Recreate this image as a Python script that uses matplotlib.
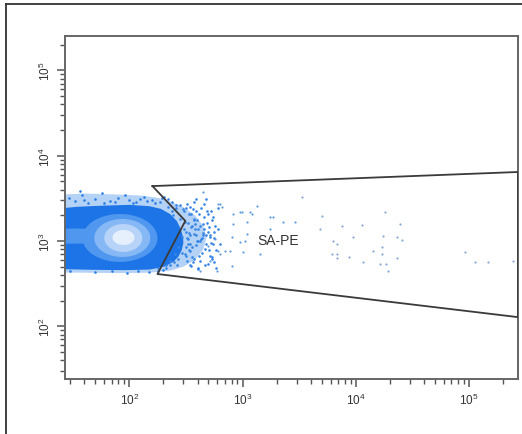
import numpy as np
import matplotlib
matplotlib.use("Agg")
import matplotlib.pyplot as plt
from matplotlib.lines import Line2D
from matplotlib.ticker import LogLocator, NullFormatter

plt.rcParams['font.family'] = ['Liberation Sans', 'DejaVu Sans']
plt.rcParams['mathtext.fontset'] = 'custom'
plt.rcParams['mathtext.rm'] = 'Liberation Sans'
plt.rcParams['mathtext.it'] = 'Liberation Sans:italic'
plt.rcParams['mathtext.bf'] = 'Liberation Sans:bold'

# ---------------- data ----------------
x_limits = [27, 271000]
y_limits = [24.1, 253000]

# sparse halo of events around the body
halo_x = [15, 40, 80, 130, 180, 230, 300, 380, 450, 480, 450, 380, 300, 230, 150, 80, 40, 15]
halo_y = [3400, 3600, 3500, 3400, 3200, 2900, 2500, 2000, 1500, 1100, 800, 600, 500, 450, 425, 420, 425, 430]

# outer boundary of the dense (solid) population
solid_x = [15, 20, 35, 60, 100, 150, 190, 230, 262, 285, 298, 300, 290, 270, 245, 205, 150, 90, 45, 20, 15]
solid_y = [2300, 2350, 2520, 2600, 2650, 2560, 2380, 2060, 1720, 1380, 1100, 950, 780, 650, 570, 500, 462, 455, 460, 470, 470]

# nested density contour rings (outer -> inner), extents in data units
ring_x_lo = [38.5, 49.0, 60.0, 71.0]
ring_x_hi = [177.0, 153.0, 130.0, 111.0]
ring_y_lo = [568, 649, 743, 898]
ring_y_hi = [2073, 1812, 1582, 1346]
ring_colors = ['#4f97ef', '#85b8f4', '#b7d3f8', '#e6effc']

# lighter lobe at the left edge
lobe_x = [12, 90]
lobe_y = [930, 1400]

# events just outside the solid body (dense, bright)
dense_x = [221, 240, 260, 230, 255, 271, 294, 282, 306, 265, 212, 244,
           325, 339, 353, 332, 345, 325, 367, 383, 375, 390, 360, 406, 415,
           432, 450, 424, 469, 488, 478, 508, 529, 551, 540, 459, 390, 353,
           562, 498, 406, 318, 300, 312, 335, 372, 398, 445, 520, 310, 342,
           318, 332, 345, 360, 375, 390, 406, 424, 441, 459, 478, 498, 518, 540,
           562, 586, 611, 636, 325, 339, 353, 367, 383, 398, 415, 432, 450, 469,
           488, 508, 529, 551, 574, 345, 375, 406, 318, 332, 360, 390, 424, 459,
           498, 540, 306, 294, 282, 271, 260, 250, 240, 230, 221, 212, 204, 196,
           188, 180, 318, 345, 375, 441, 478, 518, 562, 611, 586]
dense_y = [2505, 2248, 2643, 583, 705, 851, 1114, 1812, 1383, 523, 523, 2018,
           2715, 2073, 1459, 1055, 764, 583, 2372, 1582, 1208, 898, 649, 1383, 2073,
           1055, 1582, 583, 806, 2248, 1175, 1459, 948, 1911, 649, 2715, 3100, 509,
           1276, 537, 470, 851, 2400, 1650, 1250, 1800, 1000, 1250, 1100, 700, 2500,
           2438, 1625, 1175, 851, 615, 2248, 1000, 1500, 723, 1911, 922, 1276, 667, 1762,
           1084, 784, 1383, 922, 1084, 784, 2073, 568, 1383, 1762, 667, 2438, 1175, 523,
           1625, 784, 2248, 922, 1500, 523, 2864, 482, 667, 922, 1500, 1175, 1000, 1383,
           2073, 615, 2248, 723, 2643, 615, 2438, 568, 2864, 523, 3100, 482, 3280, 523,
           2864, 482, 1276, 922, 1762, 1084, 3100, 1175, 568, 2438, 482]

# ragged upper / lower fringe of the population
fringe_x = [29, 33.3, 38.5, 43.4, 50.1, 57.8, 68, 80, 92.2, 108, 125, 144, 170, 196,
            60, 100, 115, 160, 75, 135, 40, 37, 30, 50, 70, 95, 120, 150, 180, 200]
fringe_y = [3190, 2945, 3460, 2786, 3100, 3655, 2945, 3190, 3460, 2786, 3100, 2945, 2786, 3190,
            2786, 3000, 2850, 3000, 2850, 3300, 3000, 3855, 445, 430, 440, 425, 440, 430, 445, 460]

# sparse tail events
tail_x = [636, 1349, 828, 994, 1218, 1867, 1100, 2288, 2917, 1757, 955, 811, 704, 1014,
          636, 450, 611, 662, 955, 1169, 828, 1100, 574, 498, 611, 779, 518, 811, 598,
          1057, 1432, 424, 1757]
tail_y = [2715, 2573, 2073, 2190, 2073, 1911, 1670, 1670, 1670, 1383, 973, 1114, 764, 743,
          705, 3750, 2715, 2505, 2190, 2190, 1582, 1208, 1055, 873, 764, 764, 583, 509, 445,
          1000, 705, 445, 1911]

# far events inside the gate
far_x = [3360, 5050, 4850, 7590, 11400, 18200, 24640, 6320, 6855, 9490, 17460, 23200, 25680,
         17100, 14250, 6190, 6855, 6855, 8750, 17100, 23200, 11620, 16420, 18550, 19320,
         92500, 113300, 147500, 245000]
far_y = [3280, 1965, 1383, 1500, 1541, 2190, 1582, 1000, 922, 1114, 1145, 1114, 1028,
         851, 764, 705, 705, 632, 649, 705, 632, 568, 537, 537, 445,
         743, 568, 568, 583]

# gate polygon
gate_x = [160, 312, 177, 271000, 271000, 160]
gate_y = [4400, 1720, 410, 128, 6440, 4400]
gate_label = "SA-PE"
gate_label_pos = (2065, 1025)

# ---------------- figure ----------------
fig = plt.figure(figsize=(5.22, 4.35), dpi=100)
ax = fig.add_axes([65 / 522, 1 - 380 / 435, 453 / 522, 343 / 435])
ax.set_xscale('log')
ax.set_yscale('log')
ax.set_xlim(*x_limits)
ax.set_ylim(*y_limits)

ax.fill(halo_x, halo_y, color='#b4d1f6', lw=0, zorder=0.5)
ax.fill(solid_x, solid_y, color='#1c74e7', lw=0, zorder=1)


def ellipse(xlo, xhi, ylo, yhi, n=120):
    cx = (np.log10(xlo) + np.log10(xhi)) / 2
    rx = (np.log10(xhi) - np.log10(xlo)) / 2
    cy = (np.log10(ylo) + np.log10(yhi)) / 2
    ry = (np.log10(yhi) - np.log10(ylo)) / 2
    t = np.linspace(0, 2 * np.pi, n)
    return 10 ** (cx + rx * np.cos(t)), 10 ** (cy + ry * np.sin(t))


ex, ey = ellipse(lobe_x[0], lobe_x[1], lobe_y[0], lobe_y[1])
ax.fill(ex, ey, color=ring_colors[0], lw=0, zorder=2)
for xlo, xhi, ylo, yhi, c in zip(ring_x_lo, ring_x_hi, ring_y_lo, ring_y_hi, ring_colors):
    ex, ey = ellipse(xlo, xhi, ylo, yhi)
    ax.fill(ex, ey, color=c, lw=0, zorder=2)

ax.scatter(fringe_x, fringe_y, s=3.5, color='#2a7fe6', lw=0, zorder=3)
ax.scatter(dense_x, dense_y, s=3.5, color='#3585e4', lw=0, zorder=3)
ax.scatter(tail_x, tail_y, s=2.5, color='#5f9cdc', lw=0, zorder=3)
ax.scatter(far_x, far_y, s=2.5, color='#86aad6', lw=0, zorder=3)

ax.plot(gate_x, gate_y, color='#3a3a3a', lw=1.3, zorder=4, clip_on=True)
ax.text(gate_label_pos[0], gate_label_pos[1], gate_label, fontsize=10,
        color='#333333', ha='center', va='center', zorder=5)

for s in ['top', 'right', 'bottom', 'left']:
    ax.spines[s].set_color('#666666')
    ax.spines[s].set_linewidth(1.4)

for axis in (ax.xaxis, ax.yaxis):
    axis.set_major_locator(LogLocator(base=10, numticks=10))
    axis.set_minor_locator(LogLocator(base=10, subs=np.arange(2, 10), numticks=20))
    axis.set_minor_formatter(NullFormatter())

ax.tick_params(which='major', direction='out', length=6, width=1.1, color='#555555',
               labelsize=8.5, labelcolor='#333333', pad=3)
ax.tick_params(which='minor', direction='out', length=3.5, width=1.0, color='#555555')
ax.tick_params(top=False, right=False)
for lab in ax.get_yticklabels():
    lab.set_rotation(90)
    lab.set_va('center')

# outer frame of the image
fig.add_artist(Line2D([6 / 522, 1.0], [1 - 5 / 435, 1 - 5 / 435], color='#333333', lw=1.3))
fig.add_artist(Line2D([6 / 522, 6 / 522], [0.0, 1 - 5 / 435], color='#333333', lw=1.3))

fig.savefig('out.png', dpi=100)
